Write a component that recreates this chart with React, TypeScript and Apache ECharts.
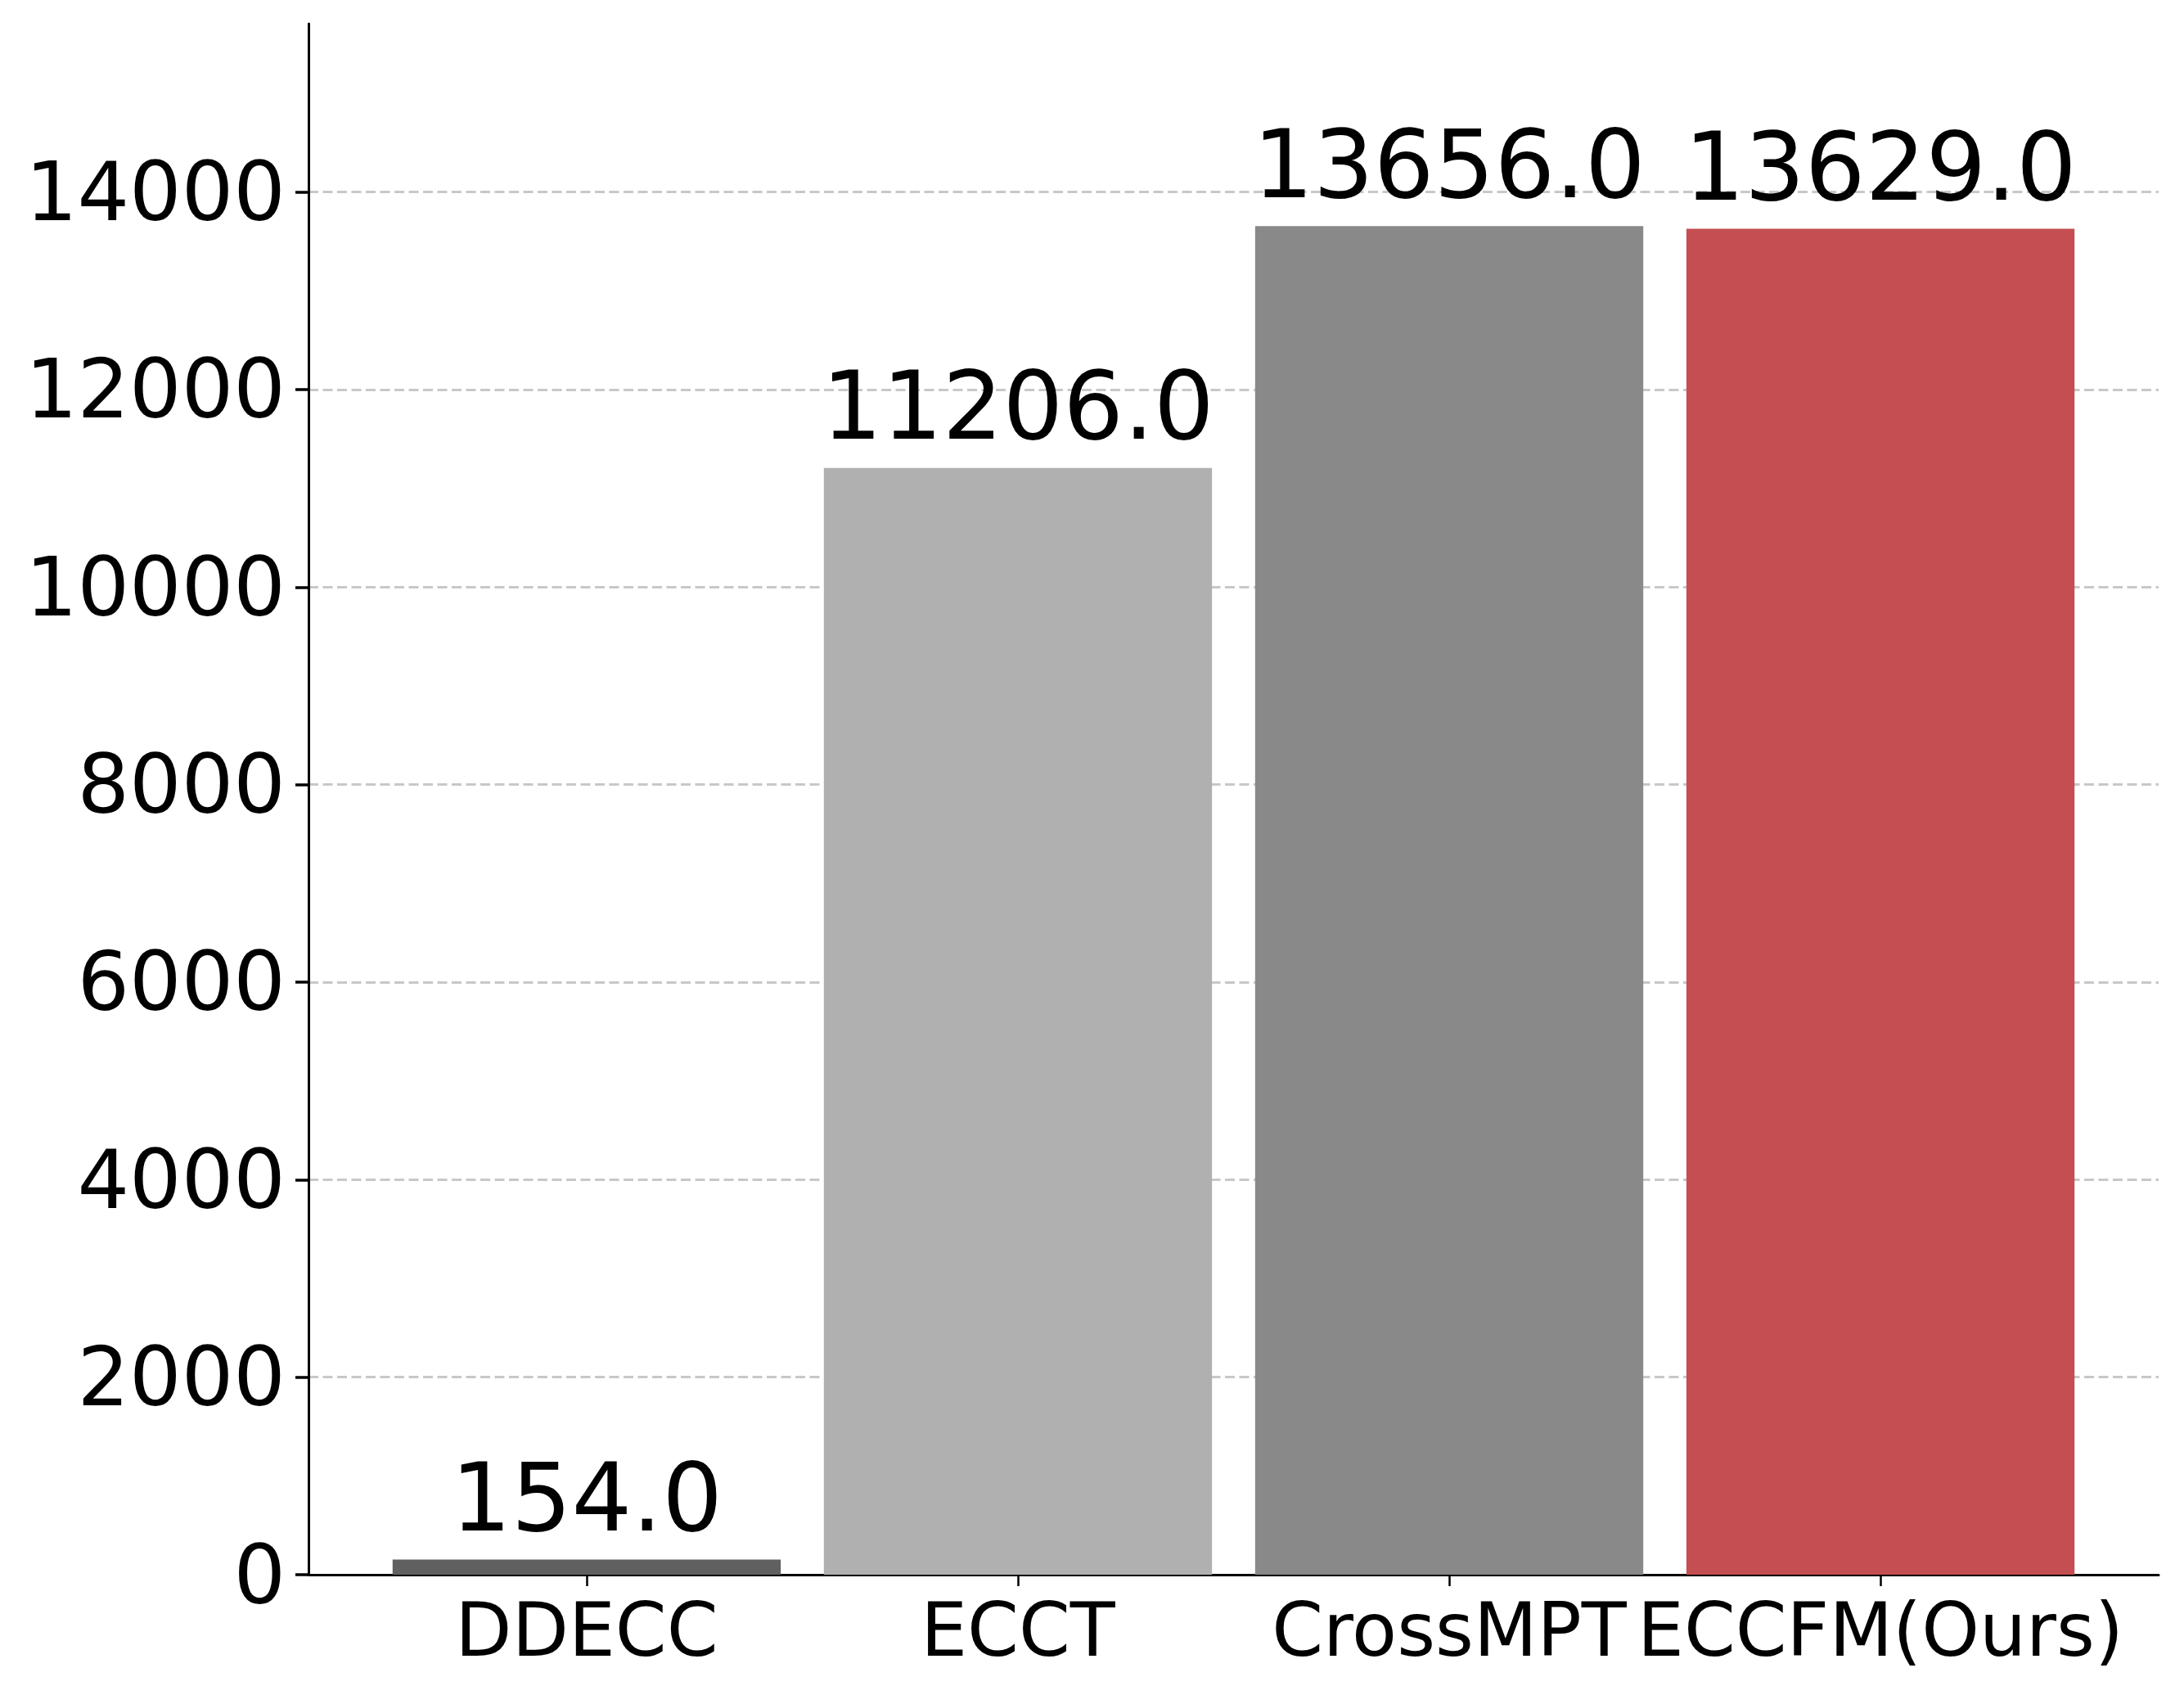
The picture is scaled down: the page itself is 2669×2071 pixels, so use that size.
import React, { useEffect, useRef } from "react";
import * as echarts from "echarts";

const categories = ["DDECC", "ECCT", "CrossMPT", "ECCFM(Ours)"];
const values = [154.0, 11206.0, 13656.0, 13629.0];
const barColors = ["#606060", "#b0b0b0", "#898989", "#c44e52"];
const yTickMax = 14000;
const yTickStep = 2000;

const W = 2669;
const H = 2071;
// axes frame (pixels)
const AX_LEFT = 377;
const AX_RIGHT = 2638;
const AX_TOP = 29;
const AX_BOTTOM = 1924;
// data limits (matplotlib-like)
const Y_LIMIT = Math.max(...values) * 1.15;
const X_MIN = -0.645;
const X_MAX = categories.length - 1 + 0.645;

export default function App() {
  const ref = useRef<HTMLDivElement>(null);
  useEffect(() => {
    if (!ref.current) return;
    const chart = echarts.init(ref.current, null, { renderer: "svg", width: W, height: H });
    const plotH = AX_BOTTOM - AX_TOP;
    const pxPerY = plotH / Y_LIMIT;
    const tickTop = AX_BOTTOM - yTickMax * pxPerY;
    const plotW = AX_RIGHT - AX_LEFT;
    const pxPerX = plotW / (X_MAX - X_MIN);
    const catLeft = AX_LEFT + (-0.5 - X_MIN) * pxPerX;
    const catRight = AX_LEFT + (categories.length - 0.5 - X_MIN) * pxPerX;
    const font = "DejaVu Sans";

    chart.setOption({
      animation: false,
      backgroundColor: "#ffffff",
      textStyle: { fontFamily: font },
      grid: [
        { left: AX_LEFT, width: plotW, top: tickTop, height: AX_BOTTOM - tickTop },
        { left: AX_LEFT, width: plotW, top: AX_TOP, height: plotH },
        { left: catLeft, width: catRight - catLeft, top: tickTop, height: AX_BOTTOM - tickTop },
      ],
      xAxis: [
        {
          gridIndex: 0,
          type: "value",
          min: X_MIN,
          max: X_MAX,
          axisLine: { show: true, onZero: false, lineStyle: { color: "#000", width: 3 } },
          axisTick: { show: false },
          axisLabel: { show: false },
          splitLine: { show: false },
        },
        { gridIndex: 1, type: "value", min: X_MIN, max: X_MAX, show: false },
        {
          gridIndex: 2,
          type: "category",
          data: categories,
          axisLine: { show: false, onZero: false },
          axisTick: {
            show: true,
            alignWithLabel: true,
            length: 14,
            lineStyle: { color: "#000", width: 2.5 },
          },
          axisLabel: {
            interval: 0,
            fontSize: 90,
            color: "#000",
            fontFamily: font,
            margin: 22,
          },
        },
      ],
      yAxis: [
        {
          gridIndex: 0,
          type: "value",
          min: 0,
          max: yTickMax,
          interval: yTickStep,
          axisLine: { show: true, onZero: false, lineStyle: { color: "#000", width: 3 } },
          axisTick: { show: true, length: 16, lineStyle: { color: "#000", width: 3.5 } },
          axisLabel: {
            fontSize: 100,
            color: "#000",
            fontFamily: font,
            margin: 28,
            formatter: (v: number) => String(v),
          },
          splitLine: {
            show: true,
            lineStyle: { color: "#c8c8c8", width: 3, type: [12, 5.5] },
          },
        },
        {
          gridIndex: 1,
          type: "value",
          min: 0,
          max: Y_LIMIT,
          axisLine: { show: true, onZero: false, lineStyle: { color: "#000", width: 3 } },
          axisTick: { show: false },
          axisLabel: { show: false },
          splitLine: { show: false },
        },
        { gridIndex: 2, type: "value", min: 0, max: yTickMax, show: false },
      ],
      series: [
        {
          type: "bar",
          xAxisIndex: 2,
          yAxisIndex: 2,
          barWidth: "90%",
          data: values.map((v, i) => ({ value: v, itemStyle: { color: barColors[i] } })),
          label: {
            show: true,
            position: "top",
            distance: 18,
            fontSize: 116,
            color: "#000",
            fontFamily: font,
            formatter: (p: any) => Number(p.value).toFixed(1),
          },
          z: 3,
        },
      ],
    });
    return () => chart.dispose();
  }, []);
  return (
    <div
      ref={ref}
      style={{ position: "fixed", left: 0, top: 0, width: W, height: H, background: "#fff" }}
    />
  );
}
